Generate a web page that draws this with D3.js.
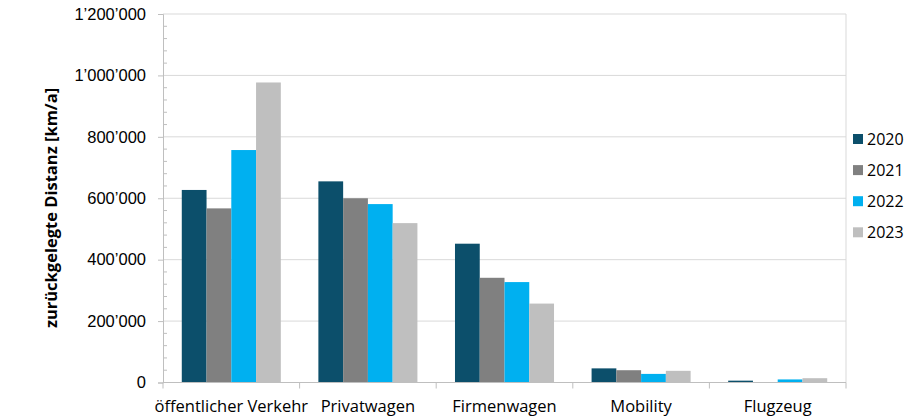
<!DOCTYPE html>
<html>
<head>
<meta charset="utf-8">
<script src="https://cdn.jsdelivr.net/npm/d3@7"></script>
<style>
  body { margin: 0; background: #fff; }
  svg { font-family: "Open Sans", sans-serif; }
</style>
</head>
<body>
<svg width="912" height="419"></svg>
<script>
const categories = ["öffentlicher Verkehr", "Privatwagen", "Firmenwagen", "Mobility", "Flugzeug"];
const years = ["2020", "2021", "2022", "2023"];
const values2020 = [627000, 655000, 452000, 46000, 6000];
const values2021 = [567000, 600000, 341000, 40000, 0];
const values2022 = [757000, 581000, 327000, 28000, 10000];
const values2023 = [977000, 519000, 257000, 38000, 14000];
const yTicks = [0, 200000, 400000, 600000, 800000, 1000000, 1200000];
const colors = ["#0c4f6b", "#808080", "#00b0f0", "#bfbfbf"];

const series = [values2020, values2021, values2022, values2023];
const data = categories.map((c, i) => ({ cat: c, vals: years.map((y, j) => ({ year: y, value: series[j][i] })) }));

const svg = d3.select("svg"),
      margin = {top: 14, right: 66, bottom: 36, left: 163},
      width = 846 - margin.left,
      height = 382.5 - margin.top;

const g = svg.append("g").attr("transform", `translate(${margin.left},${margin.top})`);

const x0 = d3.scaleBand().domain(categories).range([0, width]).paddingInner(0).paddingOuter(0);
const x1 = d3.scaleBand().domain(years).range([x0.bandwidth() * 0.1375, x0.bandwidth() * 0.8625]);
const y = d3.scaleLinear().domain([0, 1200000]).range([height, 0]);
const color = d3.scaleOrdinal().domain(years).range(colors);

const fmt = v => d3.format(",")(v).replace(/,/g, "’");

// gridlines
g.append("g")
  .selectAll("line")
  .data(yTicks.slice(1))
  .join("line")
    .attr("x1", 0).attr("x2", width)
    .attr("y1", d => y(d)).attr("y2", d => y(d))
    .attr("stroke", "#d9d9d9");

// right border
g.append("line")
  .attr("x1", width).attr("x2", width)
  .attr("y1", 0).attr("y2", height)
  .attr("stroke", "#d9d9d9");

// minor ticks on y axis
g.append("g")
  .selectAll("line")
  .data(d3.range(0, 1200001, 40000).filter(v => v % 200000 !== 0))
  .join("line")
    .attr("x1", 0).attr("x2", 4)
    .attr("y1", d => y(d)).attr("y2", d => y(d))
    .attr("stroke", "#bfbfbf");

// bars
g.append("g")
  .selectAll("g")
  .data(data)
  .join("g")
    .attr("transform", d => `translate(${x0(d.cat)},0)`)
  .selectAll("rect")
  .data(d => d.vals)
  .join("rect")
    .attr("x", d => x1(d.year))
    .attr("y", d => y(d.value))
    .attr("width", x1.bandwidth())
    .attr("height", d => height - y(d.value))
    .attr("fill", d => color(d.year));

// y axis
const yAxis = g.append("g")
  .call(d3.axisLeft(y).tickValues(yTicks).tickFormat(fmt).tickSize(5).tickPadding(12));
yAxis.select(".domain").attr("stroke", "#bfbfbf");
yAxis.selectAll(".tick line").attr("stroke", "#bfbfbf");
yAxis.selectAll("text").style("font-size", "16.5px").attr("fill", "#000");

// x axis
const xAxis = g.append("g")
  .attr("transform", `translate(0,${height})`);
xAxis.append("line")
  .attr("x1", 0).attr("x2", width)
  .attr("stroke", "#bfbfbf");
xAxis.selectAll(".sep")
  .data(d3.range(categories.length + 1))
  .join("line")
    .attr("x1", i => i * x0.bandwidth()).attr("x2", i => i * x0.bandwidth())
    .attr("y1", 0).attr("y2", 6)
    .attr("stroke", "#bfbfbf");
xAxis.selectAll(".lbl")
  .data(categories)
  .join("text")
    .attr("x", d => x0(d) + x0.bandwidth() / 2)
    .attr("y", 29)
    .attr("text-anchor", "middle")
    .style("font-size", "16.5px")
    .text(d => d);

// y axis title
svg.append("text")
  .attr("transform", "translate(57,208) rotate(-90)")
  .attr("text-anchor", "middle")
  .style("font-size", "16.5px")
  .style("font-weight", "bold")
  .text("zurückgelegte Distanz [km/a]");

// legend
const legend = svg.append("g").attr("transform", "translate(853,139)");
years.forEach((yr, i) => {
  const lg = legend.append("g").attr("transform", `translate(0,${i * 31.1})`);
  lg.append("rect")
    .attr("x", 0).attr("y", -5)
    .attr("width", 10).attr("height", 10)
    .attr("fill", color(yr));
  lg.append("text")
    .attr("x", 14).attr("y", 6)
    .style("font-size", "16px")
    .text(yr);
});
</script>
</body>
</html>
